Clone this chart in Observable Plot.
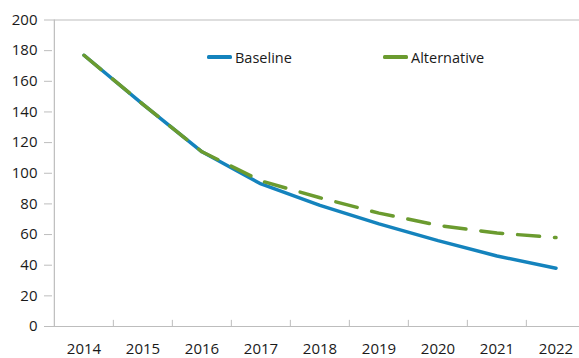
<!DOCTYPE html>
<html>
<head>
<meta charset="utf-8">
<script src="https://cdn.jsdelivr.net/npm/d3@7"></script>
<script src="https://cdn.jsdelivr.net/npm/@observablehq/plot@0.6"></script>
<style>
  body { margin: 0; background: #fff; }
  #wrap { position: relative; width: 579px; height: 358px; font-family: "Open Sans", sans-serif; }
  .legend-item { position: absolute; top: 47px; height: 20px; display: flex; align-items: center; font-size: 14.5px; color: #1a1a1a; white-space: nowrap; }
  .swatch { display: inline-block; width: 25px; height: 3.5px; margin-right: 3px; border-radius: 1.5px; }
  svg text { fill: #1a1a1a; }
</style>
</head>
<body>
<div id="wrap"></div>
<script>
const years = ["2014", "2015", "2016", "2017", "2018", "2019", "2020", "2021", "2022"];
const baseline = [177, 145, 114, 93, 79, 67, 56, 46, 38];
const alternative = [177, 145, 114, 95, 84, 74, 66, 61, 58];
const yTicks = [0, 20, 40, 60, 80, 100, 120, 140, 160, 180, 200];
const seriesNames = ["Baseline", "Alternative"];
const seriesColors = ["#1483BD", "#6B9B2F"];
const legendLefts = [207, 383];

const baseRows = years.map((y, i) => ({year: y, value: baseline[i]}));
const altRows = years.map((y, i) => ({year: y, value: alternative[i]}));

const xRange = [52.3, 586];
const bw = (xRange[1] - xRange[0]) / years.length;
const axisColor = "#bdbdbd";

const chart = Plot.plot({
  width: 579,
  height: 358,
  marginLeft: 52,
  marginRight: 0,
  marginTop: 19,
  marginBottom: 32,
  style: {fontFamily: "'Open Sans', sans-serif", fontSize: "15px", color: "#1a1a1a", background: "#fff"},
  x: {type: "band", domain: years, range: xRange, padding: 0},
  y: {domain: [0, 200], range: [326, 19.5]},
  marks: [
    Plot.ruleY([0, 200], {stroke: axisColor, strokeWidth: 1.2}),
    Plot.ruleX([years[0]], {y1: 0, y2: 200, dx: -bw / 2, stroke: axisColor, strokeWidth: 1.2}),
    Plot.ruleX(years.slice(1), {x: d => d, y1: 0, y2: 4, dx: -bw / 2, stroke: axisColor, strokeWidth: 1}),
    Plot.axisY({ticks: yTicks, tickSize: 8, tickPadding: 7, stroke: axisColor, label: null, fontSize: 15}),
    Plot.axisX({tickSize: 0, tickPadding: 17, label: null, fontSize: 15}),
    Plot.line(baseRows, {x: "year", y: "value", stroke: seriesColors[0], strokeWidth: 3.5, strokeLinejoin: "round"}),
    Plot.line(altRows, {x: "year", y: "value", stroke: seriesColors[1], strokeWidth: 3.5, strokeDasharray: "22,15", strokeLinecap: "round", strokeLinejoin: "round"})
  ]
});

const wrap = document.getElementById("wrap");
wrap.appendChild(chart);
seriesNames.forEach((name, i) => {
  const item = document.createElement("div");
  item.className = "legend-item";
  item.style.left = legendLefts[i] + "px";
  const sw = document.createElement("span");
  sw.className = "swatch";
  sw.style.background = seriesColors[i];
  item.appendChild(sw);
  const t = document.createElement("span");
  t.textContent = name;
  item.appendChild(t);
  wrap.appendChild(item);
});
</script>
</body>
</html>
